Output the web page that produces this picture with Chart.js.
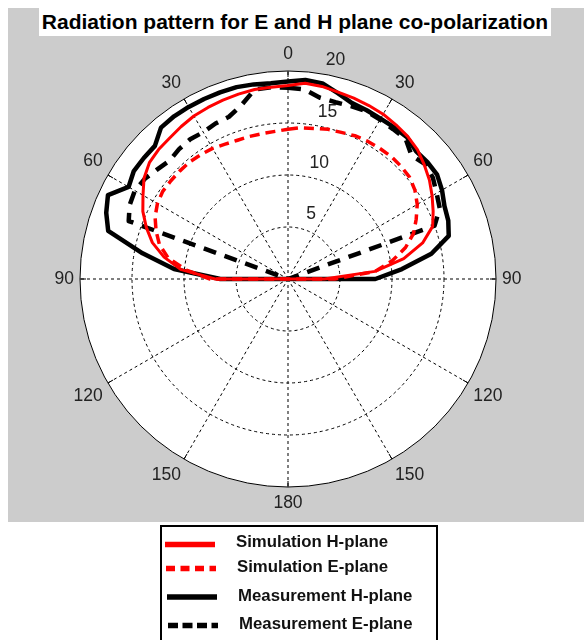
<!DOCTYPE html>
<html>
<head>
<meta charset="utf-8">
<title>Radiation pattern</title>
<script src="https://cdn.jsdelivr.net/npm/chart.js@4.4.0/dist/chart.umd.min.js"></script>
<style>
  body {
    margin: 0;
    width: 584px;
    height: 640px;
    position: relative;
    overflow: hidden;
    background: #ffffff;
    font-family: 'Liberation Sans', Arial, sans-serif;
  }
  #plot {
    position: absolute;
    left: 8px;
    top: 8px;
    width: 576px;
    height: 514px;
    background: #cccccc;
  }
  #title {
    position: absolute;
    left: 39px;
    top: 8px;
    width: 512px;
    height: 28px;
    background: #ffffff;
    font-weight: bold;
    font-size: 21px;
    line-height: 28px;
    text-align: center;
    color: #000;
    white-space: nowrap;
  }
  #legend {
    position: absolute;
    left: 160px;
    top: 525px;
    width: 274px;
    height: 130px;
    border: 2px solid #000;
    background: #fff;
  }
  #legend svg {
    position: absolute;
    left: -162px;
    top: -527px;
  }
  .item {
    position: absolute;
    font-weight: bold;
    font-size: 16.8px;
    line-height: 20px;
    color: #111;
    white-space: nowrap;
  }
</style>
</head>
<body>
<div id="plot"><canvas id="polar"></canvas></div>
<div id="title">Radiation pattern for E and H plane co-polarization</div>
<div id="legend">
  <svg width="584" height="640">
    <line x1="165" y1="544.5" x2="215" y2="544.5" stroke="#ff0000" stroke-width="5.5"/>
    <line x1="166" y1="568.5" x2="216" y2="568.5" stroke="#ff0000" stroke-width="5.5" stroke-dasharray="9 5.5"/>
    <line x1="167" y1="597" x2="217" y2="597" stroke="#000" stroke-width="5.5"/>
    <line x1="168" y1="625.5" x2="218" y2="625.5" stroke="#000" stroke-width="5.5" stroke-dasharray="10 4.5"/>
  </svg>
  <span class="item" style="left:74px; top:5px">Simulation H-plane</span>
  <span class="item" style="left:75px; top:30px">Simulation E-plane</span>
  <span class="item" style="left:76px; top:59px">Measurement H-plane</span>
  <span class="item" style="left:77px; top:87px">Measurement E-plane</span>
</div>

<script>
// angles of the measured / simulated points (deg, 0 = broadside, clockwise)
const thetaDeg = [-90, -85, -80, -75, -70, -65, -60, -55, -50, -45, -40, -35, -30, -25, -20, -15, -10, -5,
    0, 5, 10, 15, 20, 25, 30, 35, 40, 45, 50, 55, 60, 65, 70, 75, 80, 85, 90];

// Simulation H-plane
const simH = [7.0, 10.3, 12.1, 13.5, 14.5, 15.4, 16.1, 16.9, 17.4, 17.6, 17.7, 17.9, 18.1, 18.2, 18.3, 18.4, 18.5, 18.5,
    18.6, 18.9, 18.8, 18.6, 18.5, 18.4, 18.3, 18.1, 17.9, 17.6, 17.1, 16.6, 16.0, 15.4, 14.8, 13.4, 11.3, 8.4, 3.5];

// Simulation E-plane
const simE = [7.5, 9.8, 11.7, 12.8, 13.5, 14.1, 14.5, 14.7, 14.7, 14.7, 14.7, 14.6, 14.5, 14.3, 14.2, 14.2, 14.2, 14.25,
    14.4, 14.6, 14.7, 14.9, 15.0, 15.2, 15.3, 15.35, 15.4, 15.35, 15.25, 14.9, 14.35, 13.6, 12.85, 11.7, 10.2, 8.4, 4.5];

// Measurement H-plane
const measH = [6.5, 11.0, 14.2, 17.9, 18.6, 19.1, 17.7, 18.1, 18.1, 18.1, 19.0, 19.1, 19.1, 19.1, 19.1, 19.1, 19.0, 18.9,
    19.0, 19.2, 19.1, 18.5, 18.0, 17.9, 17.8, 17.8, 17.8, 17.4, 17.5, 17.5, 17.1, 16.6, 16.4, 16.0, 14.0, 11.0, 8.4];

// Measurement E-plane
const measE = [0, 0, 0, 0, 16.3, 16.8, 17.0, 16.8, 16.4, 16.1, 16.3, 16.4, 16.3, 16.5, 16.6, 17.3, 18.5, 18.5,
    18.4, 18.3, 17.7, 17.6, 17.7, 17.8, 17.7, 17.6, 17.6, 16.8, 17.2, 17.0, 16.5, 16.1, 15.0, 0, 0, 0, 0];

// axis labels
const angleTickLabels = ['0', '30', '60', '90', '120', '150', '180', '150', '120', '90', '60', '30'];
const radialTicks = [5, 10, 15, 20];

const seriesNames = ['Simulation H-plane', 'Simulation E-plane', 'Measurement H-plane', 'Measurement E-plane'];

// the radar scale needs one slot per direction all around the circle
const ANGLE_STEP = 5;
const angleGrid = [];
for (let a = 0; a < 360; a += ANGLE_STEP) angleGrid.push(a);

function toRadar(values) {
    const out = angleGrid.map(() => null);
    thetaDeg.forEach((t, i) => {
        out[((t + 360) % 360) / ANGLE_STEP] = values[i];
    });
    return out;
}

// white disc behind the grid (the plot area of the original)
const polarBackground = {
    id: 'polarBackground',
    beforeDraw(chart) {
        const s = chart.scales.r;
        const ctx = chart.ctx;
        ctx.save();
        ctx.fillStyle = '#ffffff';
        ctx.beginPath();
        ctx.arc(s.xCenter, s.yCenter, s.drawingArea, 0, Math.PI * 2);
        ctx.fill();
        ctx.restore();
    }
};

// radius labels on a slanted line + short solid ticks on the rim
const radialLabels = {
    id: 'radialLabels',
    beforeDatasetsDraw(chart) {
        const s = chart.scales.r;
        const ctx = chart.ctx;
        const tilt = 9 * Math.PI / 180;
        ctx.save();
        ctx.strokeStyle = '#000';
        ctx.lineWidth = 1;
        const R = s.drawingArea;
        angleTickLabels.forEach((lab, i) => {
            const a = i * 30 * Math.PI / 180;
            ctx.beginPath();
            ctx.moveTo(s.xCenter + Math.sin(a) * R, s.yCenter - Math.cos(a) * R);
            ctx.lineTo(s.xCenter + Math.sin(a) * (R - 6), s.yCenter - Math.cos(a) * (R - 6));
            ctx.stroke();
        });
        ctx.fillStyle = '#222';
        ctx.font = "17.5px 'Liberation Sans', Arial, sans-serif";
        ctx.textAlign = 'center';
        ctx.textBaseline = 'middle';
        radialTicks.forEach(v => {
            const d = s.getDistanceFromCenterForValue(v);
            ctx.fillText(String(v), s.xCenter + d * Math.sin(tilt) + 15, s.yCenter - d * Math.cos(tilt) - 13);
        });
        ctx.restore();
    }
};

Chart.defaults.font.family = "'Liberation Sans', Arial, sans-serif";

new Chart(document.getElementById('polar'), {
    type: 'radar',
    data: {
        labels: angleGrid,
        datasets: [
            {
                label: seriesNames[0],
                data: toRadar(simH),
                borderColor: '#ff0000',
                borderWidth: 3
            },
            {
                label: seriesNames[1],
                data: toRadar(simE),
                borderColor: '#ff0000',
                borderWidth: 3.5,
                borderDash: [10, 6]
            },
            {
                label: seriesNames[2],
                data: toRadar(measH),
                borderColor: '#000000',
                borderWidth: 4.5
            },
            {
                label: seriesNames[3],
                data: toRadar(measE),
                borderColor: '#000000',
                borderWidth: 4.5,
                borderDash: [13, 9]
            }
        ]
    },
    options: {
        responsive: true,
        maintainAspectRatio: false,
        animation: false,
        spanGaps: true,
        layout: {
            padding: { top: 36, bottom: 8, left: 0, right: 16 }
        },
        elements: {
            point: { radius: 0, hoverRadius: 0 },
            line: { fill: false, tension: 0, borderJoinStyle: 'round' }
        },
        plugins: {
            legend: { display: false },
            title: { display: false },
            tooltip: { enabled: false }
        },
        events: [],
        scales: {
            r: {
                min: 0,
                max: 20,
                startAngle: 0,
                ticks: { stepSize: 5, display: false },
                grid: {
                    circular: true,
                    color: '#000',
                    lineWidth: 1
                },
                border: {
                    dash: (ctx) => (ctx.tick && ctx.tick.value === 20) ? [] : [3, 3]
                },
                angleLines: {
                    color: '#000',
                    lineWidth: (ctx) => angleGrid[ctx.index] % 30 === 0 ? 1 : 0,
                    borderDash: [3, 3]
                },
                pointLabels: {
                    padding: 6,
                    color: '#222',
                    font: { size: 17.5 },
                    callback: (label) => label % 30 === 0 ? angleTickLabels[label / 30] : ''
                }
            }
        }
    },
    plugins: [polarBackground, radialLabels]
});
</script>
</body>
</html>
